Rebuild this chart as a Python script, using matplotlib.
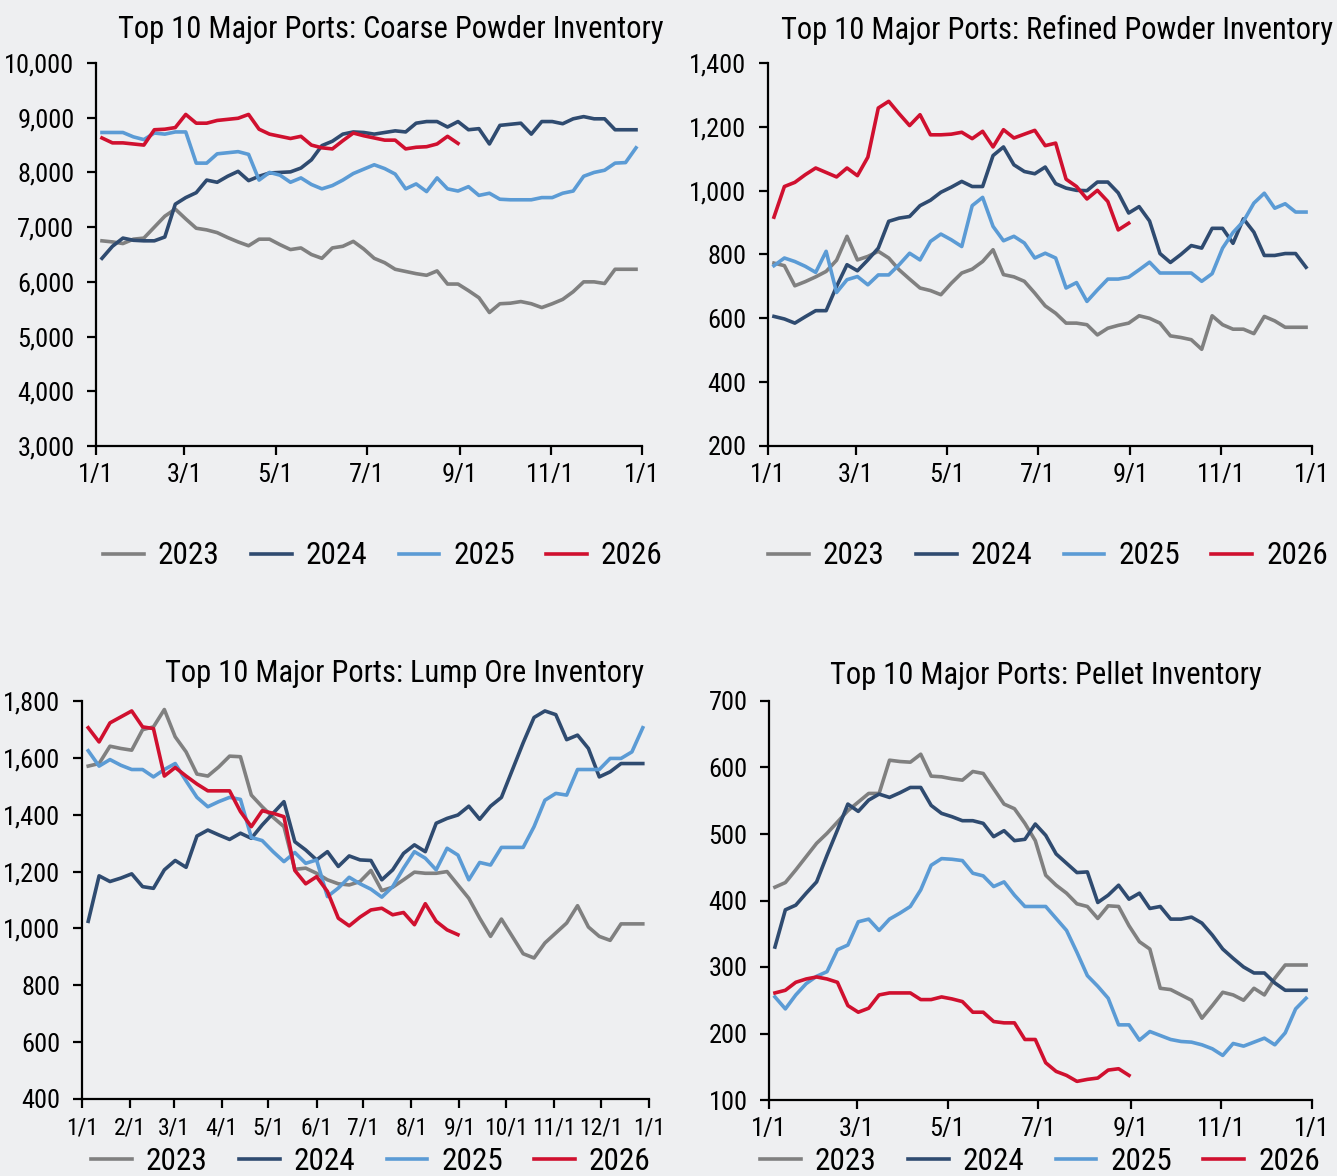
import numpy as np
import matplotlib
matplotlib.use("Agg")
import matplotlib.pyplot as plt
from matplotlib import font_manager as fm

# pick a condensed sans if one is installed
prefs = ["Roboto Condensed", "Liberation Sans Narrow", "Noto Sans", "DejaVu Sans", "Open Sans", "Roboto"]
font_name, font_stretch = "DejaVu Sans", "normal"
for name in prefs:
    hits = [f for f in fm.fontManager.ttflist
            if f.name == name and f.style == "normal" and f.weight in (400, "normal", "regular")
            and (f.stretch in ("condensed", "semi-condensed") or name in ("Roboto Condensed", "Liberation Sans Narrow"))]
    if hits:
        font_name, font_stretch = name, hits[0].stretch
        break
plt.rcParams['font.family'] = [font_name, 'DejaVu Sans']
plt.rcParams['font.stretch'] = font_stretch

years = ["2023", "2024", "2025", "2026"]
colors = ["#808080", "#2f4b70", "#5b9bd5", "#d0102f"]

# weekly values, 10k t
coarse_2023 = [6750, 6730, 6700, 6780, 6800, 7000, 7200, 7330, 7150, 6980, 6950, 6900, 6810,
               6730, 6660, 6780, 6780, 6680, 6590, 6620, 6500, 6430, 6620, 6650, 6740, 6600,
               6430, 6350, 6230, 6190, 6150, 6120, 6200, 5960, 5960, 5840, 5710, 5440, 5600,
               5610, 5640, 5600, 5530, 5600, 5680, 5820, 6000, 6000, 5970, 6230, 6230, 6230]
coarse_2024 = [6430, 6650, 6800, 6760, 6750, 6750, 6820, 7420, 7540, 7630, 7860, 7820, 7930,
               8020, 7850, 7930, 7990, 8000, 8010, 8080, 8230, 8490, 8570, 8700, 8740, 8730,
               8700, 8730, 8760, 8740, 8900, 8930, 8930, 8830, 8930, 8780, 8800, 8520, 8860,
               8880, 8900, 8700, 8930, 8930, 8890, 8980, 9020, 8980, 8980, 8780, 8780, 8780]
coarse_2025 = [8730, 8730, 8730, 8650, 8600, 8720, 8700, 8740, 8740, 8170, 8170, 8340, 8360,
               8380, 8330, 7860, 8000, 7950, 7820, 7900, 7780, 7700, 7760, 7860, 7980, 8060,
               8140, 8070, 7970, 7700, 7790, 7650, 7900, 7700, 7660, 7740, 7580, 7620, 7510,
               7500, 7500, 7500, 7540, 7540, 7620, 7660, 7930, 8000, 8040, 8170, 8180, 8450]
coarse_2026 = [8630, 8540, 8540, 8520, 8500, 8780, 8790, 8820, 9060, 8900, 8900, 8950, 8970,
               8990, 9060, 8790, 8700, 8660, 8620, 8660, 8500, 8450, 8430, 8580, 8720, 8670,
               8630, 8590, 8590, 8430, 8460, 8470, 8520, 8660, 8530]

refined_2023 = [773, 765, 702, 715, 730, 747, 782, 857, 783, 794, 810, 789, 752, 723, 695, 687,
                674, 710, 742, 754, 778, 815, 737, 730, 716, 679, 639, 616, 585, 585, 580, 548,
                569, 578, 585, 608, 600, 585, 545, 540, 533, 503, 608, 580, 566, 566, 552, 606,
                592, 572, 572, 572]
refined_2024 = [606, 598, 585, 605, 624, 624, 700, 768, 749, 783, 820, 904, 914, 919, 953, 970,
                995, 1011, 1029, 1013, 1013, 1110, 1137, 1081, 1060, 1053, 1074, 1022, 1008, 1001,
                1000, 1027, 1027, 993, 930, 950, 905, 803, 775, 800, 828, 820, 882, 882, 835, 912,
                870, 797, 797, 803, 803, 760]
refined_2025 = [765, 789, 778, 763, 744, 810, 681, 721, 731, 705, 736, 736, 768, 804, 783, 841,
                864, 846, 825, 953, 979, 888, 843, 857, 836, 789, 804, 789, 695, 712, 653, 689,
                723, 723, 729, 752, 776, 742, 742, 742, 742, 716, 740, 820, 869, 904, 961, 992,
                945, 959, 933, 933]
refined_2026 = [917, 1013, 1026, 1050, 1071, 1057, 1043, 1071, 1047, 1105, 1259, 1280, 1241,
                1204, 1238, 1175, 1175, 1177, 1183, 1163, 1186, 1137, 1191, 1165, 1177, 1189,
                1141, 1149, 1036, 1013, 974, 1001, 966, 877, 898]

lump_2023 = [1571, 1580, 1641, 1633, 1627, 1699, 1709, 1770, 1674, 1621, 1543, 1536, 1568, 1606,
             1604, 1469, 1428, 1391, 1358, 1208, 1212, 1194, 1171, 1157, 1153, 1165, 1204, 1133,
             1145, 1171, 1198, 1194, 1194, 1200, 1153, 1106, 1036, 972, 1033, 972, 911, 896, 949,
             984, 1019, 1080, 1005, 972, 958, 1016, 1016, 1016]
lump_2024 = [1025, 1185, 1165, 1177, 1192, 1147, 1141, 1206, 1239, 1215, 1325, 1346, 1329, 1313,
             1335, 1317, 1364, 1405, 1446, 1305, 1276, 1241, 1270, 1218, 1255, 1241, 1239, 1171,
             1206, 1264, 1294, 1270, 1370, 1387, 1399, 1430, 1384, 1430, 1461, 1557, 1653, 1742,
             1765, 1752, 1664, 1680, 1633, 1533, 1551, 1580, 1580, 1580]
lump_2025 = [1625, 1571, 1594, 1574, 1559, 1559, 1533, 1559, 1580, 1519, 1461, 1428, 1446, 1461,
             1454, 1320, 1309, 1270, 1235, 1267, 1229, 1241, 1112, 1142, 1180, 1157, 1138, 1110,
             1147, 1212, 1270, 1247, 1206, 1282, 1258, 1171, 1232, 1223, 1285, 1285, 1285, 1358,
             1451, 1475, 1469, 1559, 1559, 1559, 1598, 1598, 1621, 1706]
lump_2026 = [1706, 1656, 1723, 1744, 1765, 1709, 1703, 1536, 1566, 1536, 1508, 1484, 1484, 1484,
             1411, 1358, 1414, 1405, 1393, 1204, 1157, 1182, 1130, 1036, 1009, 1040, 1065, 1071,
             1048, 1056, 1013, 1087, 1025, 995, 978]

pellet_2023 = [420, 427, 446, 466, 486, 501, 518, 535, 548, 561, 561, 611, 609, 608, 620, 587,
               586, 583, 581, 594, 591, 568, 545, 538, 516, 490, 438, 423, 411, 395, 391, 373,
               392, 391, 362, 338, 327, 268, 266, 258, 250, 223, 242, 262, 258, 250, 268, 258,
               283, 303, 303, 303]
pellet_2024 = [330, 386, 393, 411, 428, 468, 506, 545, 534, 551, 560, 555, 562, 570, 570, 543,
               531, 526, 520, 520, 516, 496, 505, 490, 492, 515, 498, 470, 456, 442, 443, 397,
               408, 423, 402, 411, 388, 391, 372, 372, 375, 366, 348, 327, 313, 300, 291, 291,
               276, 265, 265, 265]
pellet_2025 = [255, 237, 258, 275, 286, 293, 326, 333, 368, 372, 355, 372, 381, 391, 416, 453,
               463, 462, 460, 441, 437, 421, 428, 408, 391, 391, 391, 373, 355, 322, 287, 271,
               253, 213, 213, 190, 203, 197, 191, 188, 187, 183, 177, 167, 185, 181, 187, 193,
               183, 201, 237, 253]
pellet_2026 = [261, 265, 277, 282, 285, 282, 277, 242, 232, 238, 258, 261, 261, 261, 251, 251,
               255, 252, 248, 232, 232, 218, 216, 216, 191, 191, 156, 143, 137, 128, 131, 133,
               145, 147, 137]

month_days = [0, 31, 59, 90, 120, 151, 181, 212, 243, 273, 304, 334, 365]
month_labels = ["1/1", "2/1", "3/1", "4/1", "5/1", "6/1", "7/1", "8/1", "9/1",
                "10/1", "11/1", "12/1", "1/1"]

W, H = 1337, 1176
fig = plt.figure(figsize=(W / 100, H / 100), dpi=100)
fig.patch.set_facecolor("#eeeff1")


def px_rect(l, t, r, b):
    return [l / W, 1 - b / H, (r - l) / W, (b - t) / H]


panels = [
    dict(rect=px_rect(96, 63, 642, 446), data=[coarse_2023, coarse_2024, coarse_2025, coarse_2026],
         ylim=(3000, 10000), step=1000, every=2, xls=19,
         title="Top 10 Major Ports: Coarse Powder Inventory", tx=391, ty=30, lx=383, ly=556),
    dict(rect=px_rect(768, 63, 1312, 446), data=[refined_2023, refined_2024, refined_2025, refined_2026],
         ylim=(200, 1400), step=200, every=2, xls=19,
         title="Top 10 Major Ports: Refined Powder Inventory", tx=1057, ty=30, lx=1048, ly=556),
    dict(rect=px_rect(82, 701, 649, 1099), data=[lump_2023, lump_2024, lump_2025, lump_2026],
         ylim=(400, 1800), step=200, every=1, xls=17,
         title="Top 10 Major Ports: Lump Ore Inventory", tx=405, ty=673, lx=371, ly=1161),
    dict(rect=px_rect(769, 701, 1312, 1100), data=[pellet_2023, pellet_2024, pellet_2025, pellet_2026],
         ylim=(100, 700), step=100, every=2, xls=19,
         title="Top 10 Major Ports: Pellet Inventory", tx=1046, ty=676, lx=1040, ly=1161),
]

for p in panels:
    ax = fig.add_axes(p["rect"])
    ax.set_facecolor("none")
    handles = []
    for yr, vals, c in zip(years, p["data"], colors):
        x = 4 + 7 * np.arange(len(vals))
        h, = ax.plot(x, vals, color=c, lw=2.6, label=yr)
        handles.append(h)
    ax.set_xlim(0, 365)
    ax.set_ylim(*p["ylim"])
    ax.set_yticks(np.arange(p["ylim"][0], p["ylim"][1] + 1, p["step"]))
    ax.yaxis.set_major_formatter(matplotlib.ticker.FuncFormatter(lambda v, _: f"{int(v):,}"))
    ax.set_xticks(month_days[::p["every"]])
    ax.set_xticklabels(month_labels[::p["every"]])
    for s in ["top", "right"]:
        ax.spines[s].set_visible(False)
    for s in ["left", "bottom"]:
        ax.spines[s].set_linewidth(1.6)
    ax.tick_params(axis="both", length=6.5, width=1.6, direction="out")
    ax.tick_params(axis="x", pad=6, labelsize=p["xls"])
    ax.tick_params(axis="y", pad=9, labelsize=19)
    fig.text(p["tx"] / W, 1 - p["ty"] / H, p["title"], ha="center", va="center", fontsize=22)
    fig.legend(handles=handles, loc="center", bbox_to_anchor=(p["lx"] / W, 1 - p["ly"] / H),
               ncol=4, frameon=False, fontsize=22.5, handlelength=1.3, handletextpad=0.45,
               columnspacing=1.0)

fig.savefig("out.png", dpi=100, facecolor=fig.get_facecolor())
